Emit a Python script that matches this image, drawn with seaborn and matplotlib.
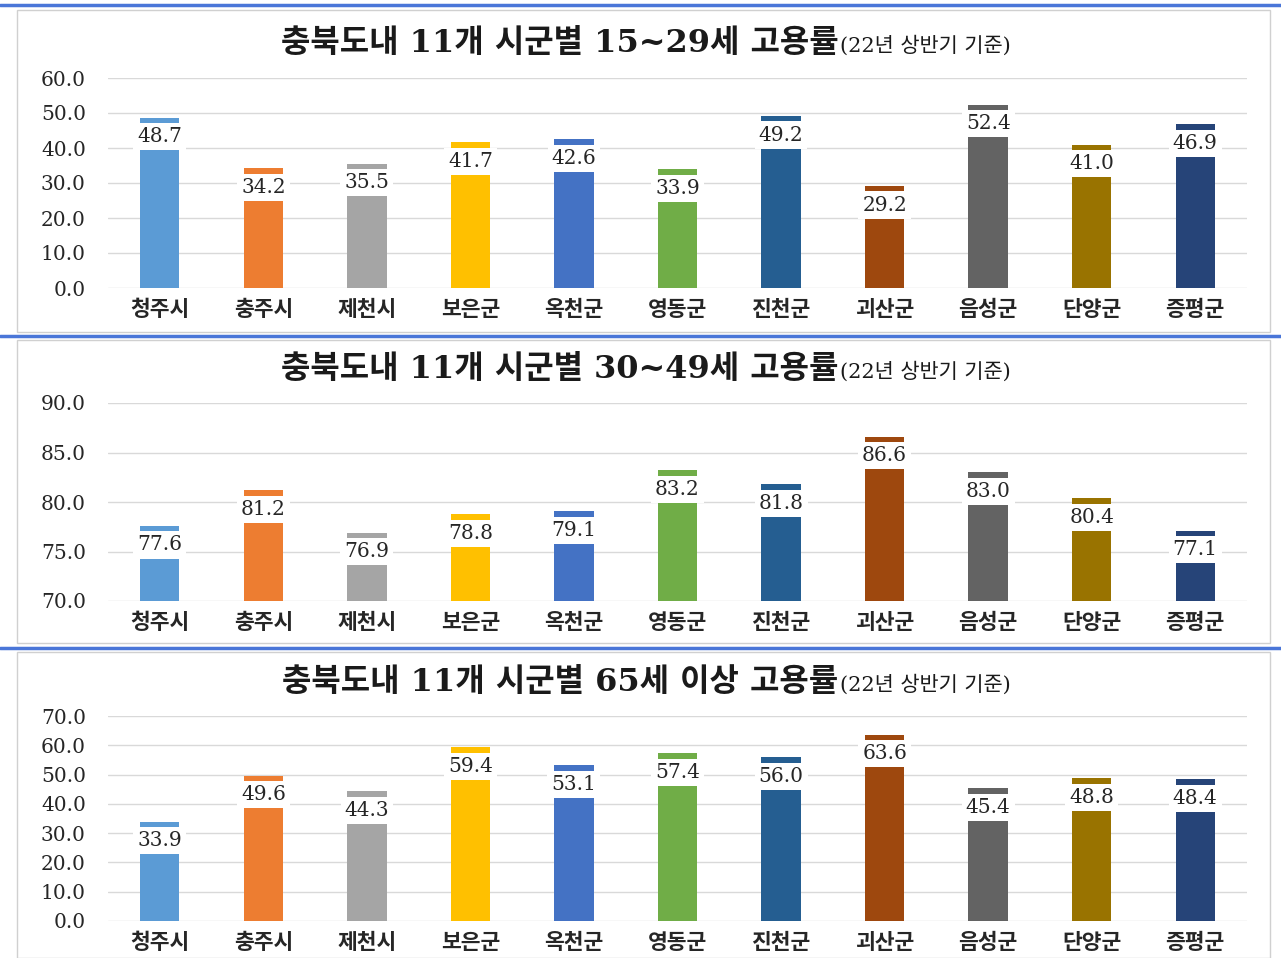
import numpy as np
import matplotlib
matplotlib.use('Agg')
import matplotlib.pyplot as plt
import seaborn as sns
from matplotlib.patches import Rectangle
from matplotlib.lines import Line2D
from matplotlib.ticker import FormatStrFormatter, MultipleLocator

# --- DONNÉES ---
regions = ['청주시', '충주시', '제천시', '보은군', '옥천군', '영동군',
           '진천군', '괴산군', '음성군', '단양군', '증평군']
colors = ['#5B9BD5', '#ED7D31', '#A5A5A5', '#FFC000', '#4472C4', '#70AD47',
          '#255E91', '#9E480E', '#636363', '#997300', '#264478']

rate_15_29 = [48.7, 34.2, 35.5, 41.7, 42.6, 33.9, 49.2, 29.2, 52.4, 41.0, 46.9]
rate_30_49 = [77.6, 81.2, 76.9, 78.8, 79.1, 83.2, 81.8, 86.6, 83.0, 80.4, 77.1]
rate_65 = [33.9, 49.6, 44.3, 59.4, 53.1, 57.4, 56.0, 63.6, 45.4, 48.8, 48.4]

titles = ['충북도내 11개 시군별 15~29세 고용률',
          '충북도내 11개 시군별 30~49세 고용률',
          '충북도내 11개 시군별 65세 이상 고용률']
subtitle = '(22년 상반기 기준)'

# --- MISE EN PAGE (pixels) ---
W, H = 1281, 958
sns.set_theme(style='white')
plt.rcParams['font.family'] = ['DejaVu Serif', 'Noto Sans CJK KR']
KR = ['Noto Sans CJK KR', 'DejaVu Sans']
MIX = ['DejaVu Serif', 'Noto Sans CJK KR']

fig = plt.figure(figsize=(W / 100, H / 100), dpi=100)
fig.patch.set_facecolor('white')

panels = [
    # (données, ylim, pas, haut axe, bas axe, ligne titre, cadre haut, cadre bas)
    (rate_15_29, (0, 60), 10, 78, 288, 52, 10, 332),
    (rate_30_49, (70, 90), 5, 403, 601, 378, 340, 643),
    (rate_65, (0, 70), 10, 716, 921, 691, 652, 958),
]

# lignes bleues de séparation
for yb in [5, 336, 648]:
    fig.add_artist(Line2D([0, 1], [1 - yb / H] * 2, transform=fig.transFigure,
                          color='#4A76D8', lw=2.5))

ax_left, ax_right = 108, 1247
renderer = fig.canvas.get_renderer()

for k, (vals, ylim, step, top, bot, ytitle, ftop, fbot) in enumerate(panels):
    # cadre gris du panneau
    fig.add_artist(Rectangle((17 / W, 1 - fbot / H), (1270 - 17) / W, (fbot - ftop) / H,
                             transform=fig.transFigure, fill=False,
                             ec='#D0D0D0', lw=1))

    ax = fig.add_axes([ax_left / W, 1 - bot / H, (ax_right - ax_left) / W, (bot - top) / H])
    sns.barplot(x=regions, y=vals, hue=regions, palette=colors, legend=False,
                ax=ax, width=0.38, saturation=1, linewidth=0, zorder=2)
    ax.set_xlim(-0.5, 10.5)
    ax.set_ylim(*ylim)
    ax.yaxis.set_major_locator(MultipleLocator(step))
    ax.yaxis.set_major_formatter(FormatStrFormatter('%.1f'))
    ax.grid(axis='y', color='#D9D9D9', lw=1, zorder=0)
    ax.set_axisbelow(True)
    for s in ax.spines.values():
        s.set_visible(False)
    ax.set_xlabel('')
    ax.set_ylabel('')
    ax.tick_params(axis='y', length=0, pad=16, labelsize=14.5, labelcolor='#262626')
    ax.tick_params(axis='x', length=0, pad=8, labelcolor='#262626')
    for lab in ax.get_yticklabels():
        lab.set_family(MIX)
    for lab in ax.get_xticklabels():
        lab.set_family(KR)
        lab.set_fontsize(15.5)
        lab.set_fontweight('bold')

    # étiquettes de valeurs sur fond blanc (laissent un liseré en haut de la barre)
    for i, v in enumerate(vals):
        ax.annotate(f'{v:.1f}', xy=(i, v), xytext=(0, -7.0), textcoords='offset points',
                    ha='center', va='top', fontsize=14.5, color='#262626', family=MIX,
                    bbox=dict(boxstyle='square,pad=0.2', fc='white', ec='none'),
                    zorder=5, annotation_clip=False)

    # titre en deux parties
    yt = 1 - ytitle / H
    t1 = fig.text(0, yt, titles[k], fontsize=23, weight='bold', family=MIX,
                  va='baseline', ha='left', color='#1A1A1A')
    t2 = fig.text(0, yt, subtitle, fontsize=15, family=MIX,
                  va='baseline', ha='left', color='#1A1A1A')
    w1 = t1.get_window_extent(renderer).width
    w2 = t2.get_window_extent(renderer).width
    x0 = 645 - (w1 + w2) / 2
    t1.set_x(x0 / W)
    t2.set_x((x0 + w1 + 2) / W)

fig.savefig('out.png', dpi=100, facecolor='white')
